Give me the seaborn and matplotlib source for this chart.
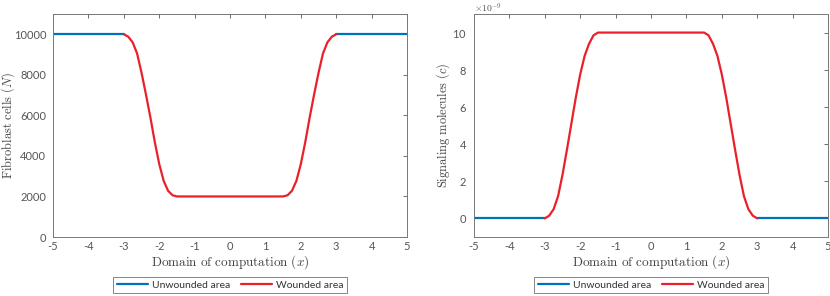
import numpy as np
import pandas as pd
import matplotlib
matplotlib.use('Agg')
import matplotlib.pyplot as plt
import seaborn as sns
from matplotlib.lines import Line2D
from matplotlib.ticker import ScalarFormatter

# values
x_unwounded_left = [-5.0, -3.0]
x_unwounded_right = [3.0, 5.0]
x_wound = [-3.0, -2.875, -2.75, -2.625, -2.5, -2.375, -2.25, -2.125, -2.0, -1.875, -1.75, -1.625, -1.5,
           1.5, 1.625, 1.75, 1.875, 2.0, 2.125, 2.25, 2.375, 2.5, 2.625, 2.75, 2.875, 3.0]

N_unwounded = [10000, 10000]
N_wound = [10000, 9880, 9600, 9050, 8100, 7030, 5900, 4680, 3600, 2770, 2280, 2060, 2000,
           2000, 2060, 2280, 2770, 3600, 4680, 5900, 7030, 8100, 9050, 9600, 9880, 10000]

c_unwounded = [0.0, 0.0]
c_wound = [0.0, 0.15e-9, 0.5e-9, 1.2e-9, 2.35e-9, 3.7e-9, 5.1e-9, 6.5e-9, 7.75e-9, 8.75e-9, 9.4e-9, 9.85e-9, 10e-9,
           10e-9, 9.85e-9, 9.4e-9, 8.75e-9, 7.75e-9, 6.5e-9, 5.1e-9, 3.7e-9, 2.35e-9, 1.2e-9, 0.5e-9, 0.15e-9, 0.0]

x_ticks = [-5, -4, -3, -2, -1, 0, 1, 2, 3, 4, 5]
N_ticks = [0, 2000, 4000, 6000, 8000, 10000]
c_ticks = [0, 2e-9, 4e-9, 6e-9, 8e-9, 10e-9]

blue = '#0072BD'
red = '#E8212B'
gray = '#555555'

sns.set_style('white')
plt.rcParams['font.family'] = ['Lato', 'DejaVu Sans']
plt.rcParams['mathtext.fontset'] = 'cm'
plt.rcParams['axes.unicode_minus'] = False

fig = plt.figure(figsize=(8.3, 2.96), dpi=100)
ax1 = fig.add_axes([0.0639, 0.1993, 0.4265, 0.7534])
ax2 = fig.add_axes([0.5711, 0.1993, 0.4265, 0.7534])

def draw(ax, y_unw, y_w):
    sns.lineplot(x=x_unwounded_left, y=y_unw, ax=ax, color=blue, linewidth=1.6, estimator=None)
    sns.lineplot(x=x_unwounded_right, y=y_unw, ax=ax, color=blue, linewidth=1.6, estimator=None)
    sns.lineplot(x=x_wound, y=y_w, ax=ax, color=red, linewidth=1.6, estimator=None, sort=False)

draw(ax1, N_unwounded, N_wound)
draw(ax2, c_unwounded, c_wound)

ax1.set_ylim(0, 11000)
ax1.set_yticks(N_ticks)
ax1.set_ylabel(r'$\mathrm{Fibroblast\ cells}\ (N)$', fontsize=9, color='#444444')
ax1.yaxis.set_label_coords(-0.101, 0.5)

ax2.set_ylim(-1e-9, 11e-9)
ax2.set_yticks(c_ticks)
fmt = ScalarFormatter(useMathText=True)
fmt.set_powerlimits((-9, -9))
ax2.yaxis.set_major_formatter(fmt)
ax2.yaxis.get_offset_text().set_visible(False)
ax2.text(0.0, 0.995, r'$\times10^{-9}$', transform=ax2.transAxes, fontsize=7, color=gray,
         ha='left', va='bottom', family='DejaVu Sans')
ax2.set_ylabel(r'$\mathrm{Signaling\ molecules}\ (c)$', fontsize=9, color='#444444')
ax2.yaxis.set_label_coords(-0.062, 0.5)

handles = [Line2D([], [], color=blue, linewidth=1.6), Line2D([], [], color=red, linewidth=1.6)]
labels = ['Unwounded area', 'Wounded area']

for ax in (ax1, ax2):
    ax.set_xlim(-5, 5)
    ax.set_xticks(x_ticks)
    ax.set_xlabel(r'$\mathrm{Domain\ of\ computation}\ (x)$', fontsize=9.5, color='#444444', labelpad=1)
    ax.tick_params(direction='in', length=3, width=0.6, colors=gray, labelsize=8,
                   top=True, right=True, labelcolor=gray, pad=3)
    ax.tick_params(axis='y', pad=5)
    for s in ax.spines.values():
        s.set_visible(True)
        s.set_color('#777777')
        s.set_linewidth(0.7)
    leg = ax.legend(handles, labels, loc='upper center', bbox_to_anchor=(0.5, -0.18), ncol=2,
                    fontsize=7.5, frameon=True, fancybox=False, handlelength=3.0, columnspacing=1.0,
                    borderpad=0.3, handletextpad=0.4, borderaxespad=0)
    leg.get_frame().set_edgecolor('#666666')
    leg.get_frame().set_linewidth(0.7)
    for t in leg.get_texts():
        t.set_color('#333333')

fig.savefig('out.png', dpi=100)
